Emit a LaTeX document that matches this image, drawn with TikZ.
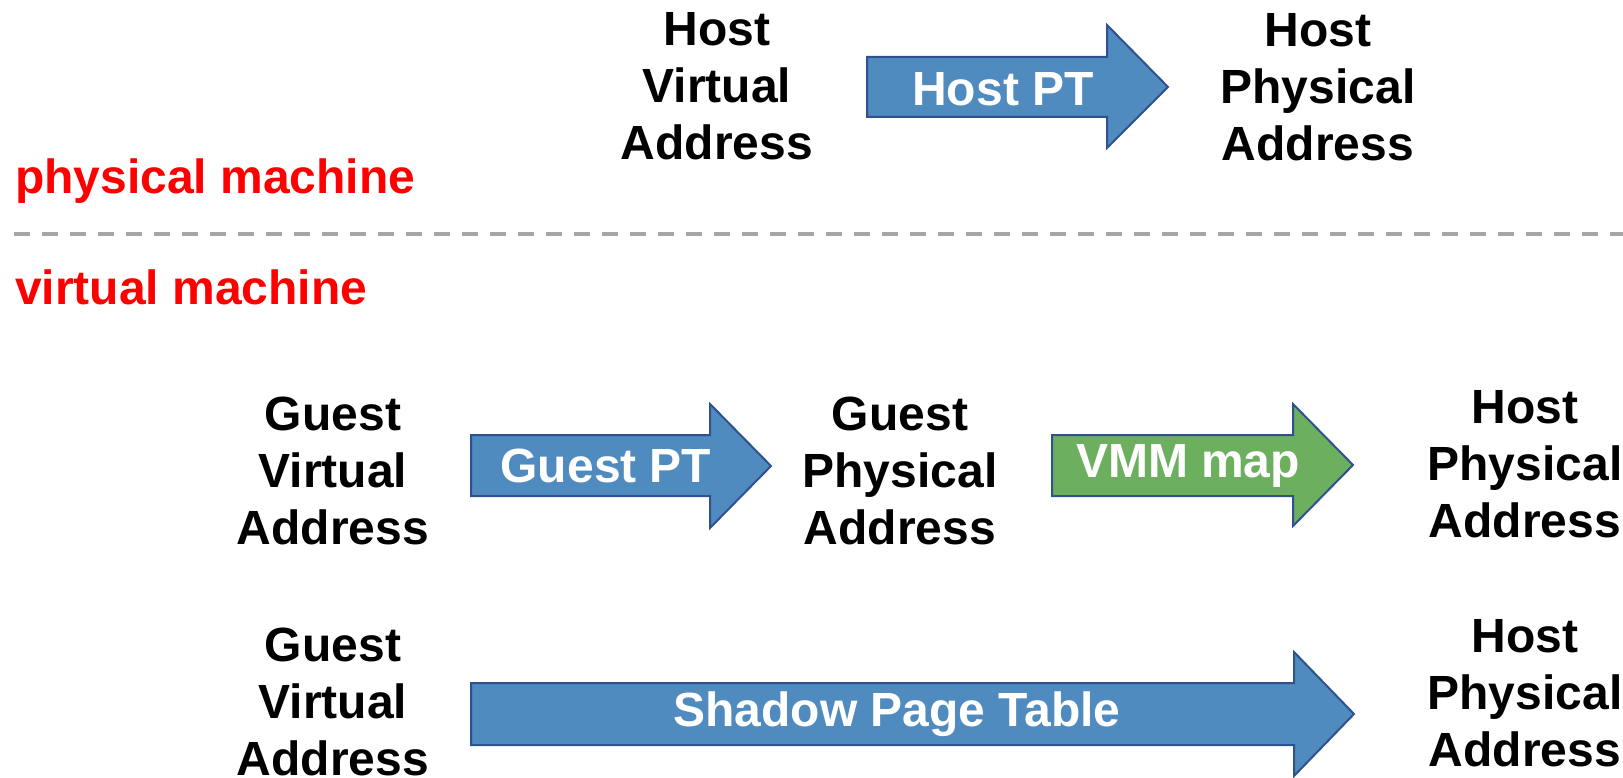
\documentclass[tikz,border=0pt]{standalone}
\usepackage{fontspec}
\setmainfont{Liberation Sans}
\definecolor{arrowblue}{HTML}{4F8BBE}
\definecolor{arrowgreen}{HTML}{6BAF5F}
\definecolor{arrowedge}{HTML}{2F528F}
\definecolor{sepgray}{HTML}{A6A6A6}
\definecolor{machred}{HTML}{FF0000}
\begin{document}
\begin{tikzpicture}[x=1pt,y=-1pt,
  addr/.style={inner sep=0pt, align=center, font=\fontsize{48}{57}\selectfont\bfseries},
  arrowlabel/.style={inner sep=0pt, text=white, font=\fontsize{48}{57}\selectfont\bfseries},
  machlabel/.style={inner sep=0pt, text=machred, font=\fontsize{48}{57}\selectfont\bfseries, anchor=base west},
  blockarrow/.style={draw=arrowedge, line width=2pt, line join=miter},
  sepline/.style={draw=sepgray, line width=4.5pt, dash pattern=on 16pt off 12pt}]
\useasboundingbox (0,0) rectangle (1623,778);

% separator
\coordinate (sepL) at (14,234);
\coordinate (sepR) at (1623,234);
\draw[sepline] (sepL) -- (sepR);

\node[machlabel] (phys) at (15,194) {physical machine};
\node[machlabel] (virt) at (15,305) {virtual machine};

% physical machine row
\node[addr] (hva) at (717,86) {Host\\Virtual\\Address};
\node[addr] (hpa1) at (1318,87) {Host\\Physical\\Address};
\draw[blockarrow, fill=arrowblue] (867,57) -- (1107,57) -- (1107,25) -- (1168,87) -- (1107,148) -- (1107,117) -- (867,117) -- cycle;
\node[arrowlabel] (hpt) at (1003,89) {Host PT};

% virtual machine row 1
\node[addr] (gva1) at (333,471) {Guest\\Virtual\\Address};
\node[addr] (gpa) at (900,471) {Guest\\Physical\\Address};
\node[addr] (hpa2) at (1525,464) {Host\\Physical\\Address};
\draw[blockarrow, fill=arrowblue] (471,435) -- (710,435) -- (710,404) -- (771,466) -- (710,528) -- (710,496) -- (471,496) -- cycle;
\node[arrowlabel] (gpt) at (606,466) {Guest PT};
\draw[blockarrow, fill=arrowgreen] (1052,435) -- (1293,435) -- (1293,404) -- (1353,465) -- (1293,526) -- (1293,496) -- (1052,496) -- cycle;
\node[arrowlabel] (vmm) at (1188,466) {VMM map};

% virtual machine row 2
\node[addr] (gva2) at (333,702) {Guest\\Virtual\\Address};
\node[addr] (hpa3) at (1525,693) {Host\\Physical\\Address};
\draw[blockarrow, fill=arrowblue] (471,683) -- (1294,683) -- (1294,652) -- (1354,714) -- (1294,776) -- (1294,745) -- (471,745) -- cycle;
\node[arrowlabel] (spt) at (897,714) {Shadow Page Table};
\end{tikzpicture}
\end{document}
